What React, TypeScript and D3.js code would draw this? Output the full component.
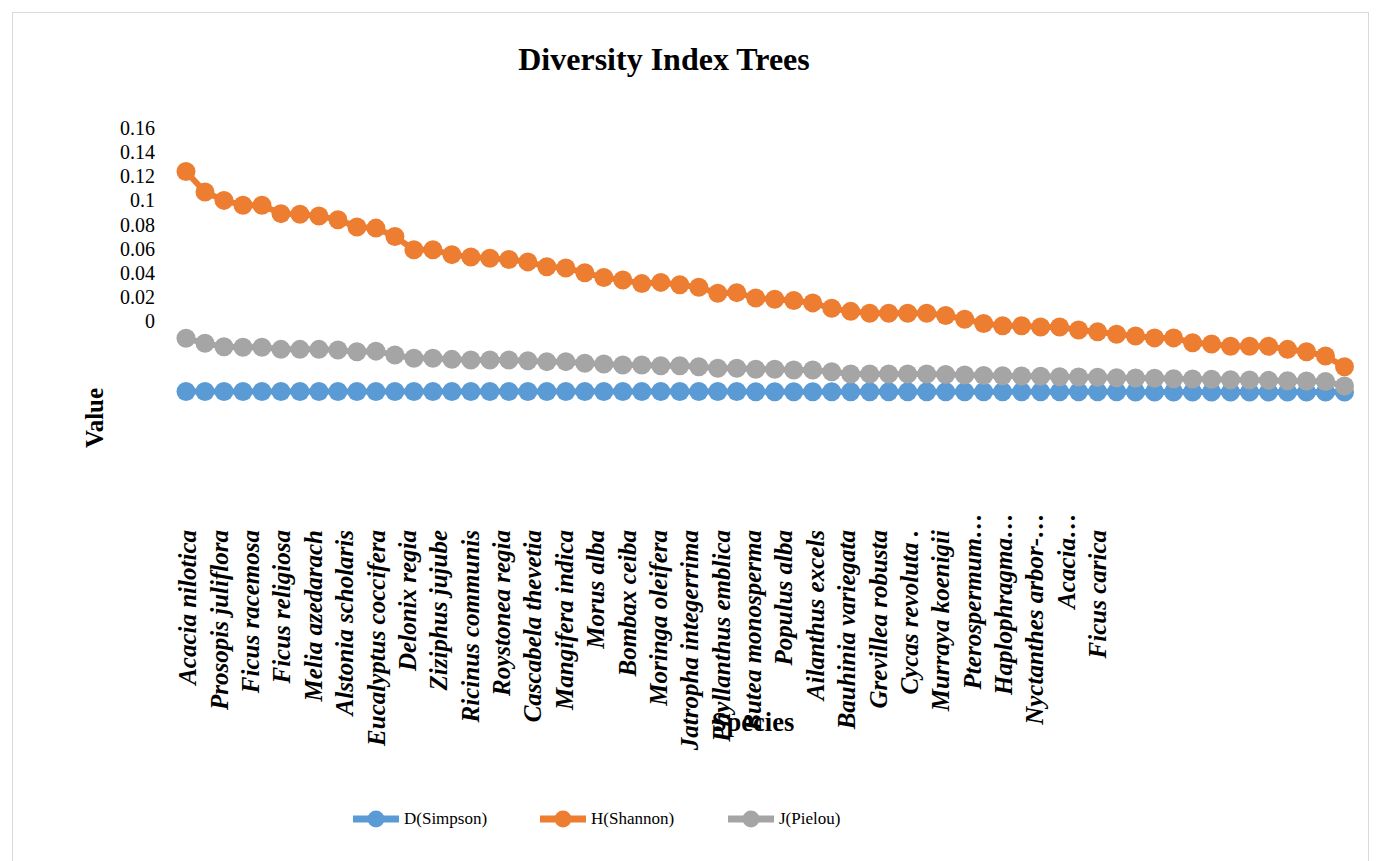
import React from "react";
import * as d3 from "d3";

// values (62 species, ordered by Shannon)
const simpson = [
  -0.0584, -0.0584, -0.0584, -0.0584, -0.0584, -0.0584, -0.0584, -0.0584, -0.0584, -0.0584,
  -0.0584, -0.0584, -0.0584, -0.0584, -0.0584, -0.0584, -0.0584, -0.0584, -0.0584, -0.0584,
  -0.0585, -0.0585, -0.0585, -0.0585, -0.0585, -0.0585, -0.0585, -0.0585, -0.0585, -0.0585,
  -0.0586, -0.0586, -0.0586, -0.0586, -0.0586, -0.0586, -0.0586, -0.0586, -0.0586, -0.0586,
  -0.0587, -0.0587, -0.0587, -0.0587, -0.0587, -0.0587, -0.0587, -0.0587, -0.0587, -0.0587,
  -0.0588, -0.0588, -0.0588, -0.0588, -0.0588, -0.0588, -0.0588, -0.0588, -0.0588, -0.0588,
  -0.0589, -0.0589,
];

const shannon = [
  0.124, 0.107, 0.1, 0.096, 0.096, 0.089, 0.0885, 0.087, 0.084, 0.078,
  0.077, 0.07, 0.059, 0.059, 0.055, 0.053, 0.052, 0.051, 0.049, 0.045,
  0.044, 0.04, 0.036, 0.034, 0.031, 0.032, 0.03, 0.028, 0.023, 0.0235,
  0.019, 0.018, 0.017, 0.015, 0.0105, 0.008, 0.0065, 0.0065, 0.0065, 0.0065,
  0.0046, 0.0014, -0.002, -0.004, -0.004, -0.005, -0.005, -0.0075, -0.009, -0.011,
  -0.0125, -0.014, -0.014, -0.018, -0.019, -0.021, -0.021, -0.021, -0.0235, -0.0255,
  -0.029, -0.038,
];

const pielou = [
  -0.0143, -0.0185, -0.0213, -0.0218, -0.0218, -0.0235, -0.0235, -0.0235, -0.024, -0.0255,
  -0.025, -0.0282, -0.0309, -0.0309, -0.0318, -0.0323, -0.0323, -0.0323, -0.0329, -0.0337,
  -0.0337, -0.0351, -0.0356, -0.0365, -0.0365, -0.0371, -0.0371, -0.0379, -0.0392, -0.0392,
  -0.04, -0.04, -0.0406, -0.0406, -0.042, -0.0439, -0.0439, -0.0439, -0.0439, -0.0439,
  -0.0444, -0.0448, -0.0452, -0.0454, -0.0456, -0.0458, -0.0462, -0.0464, -0.0467, -0.047,
  -0.0473, -0.0475, -0.0478, -0.0481, -0.0483, -0.0487, -0.0489, -0.0492, -0.0495, -0.0497,
  -0.0502, -0.0539,
];

// category tick labels shown on the axis (every other species)
const speciesLabels = [
  "Acacia nilotica", "Prosopis juliflora", "Ficus racemosa", "Ficus religiosa",
  "Melia azedarach", "Alstonia  scholaris", "Eucalyptus coccifera", "Delonix regia",
  "Ziziphus jujube", "Ricinus communis", "Roystonea regia", "Cascabela thevetia",
  "Mangifera indica", "Morus alba", "Bombax ceiba", "Moringa oleifera",
  "Jatropha integerrima", "Phyllanthus emblica", "Butea monosperma", "Populus alba",
  "Ailanthus excels", "Bauhinia variegata", "Grevillea robusta", "Cycas  revoluta .",
  "Murraya koenigii", "Pterospermum…", "Haplophragma…", "Nyctanthes arbor-…",
  "Acacia…", "Ficus carica",
];

const yTicks = [0, 0.02, 0.04, 0.06, 0.08, 0.1, 0.12, 0.14, 0.16];

const seriesList = [
  { name: "D(Simpson)", values: simpson, color: "#5B9BD5" },
  { name: "H(Shannon)", values: shannon, color: "#ED7D31" },
  { name: "J(Pielou)", values: pielou, color: "#A5A5A5" },
];

const serif = "'Liberation Serif', 'Times New Roman', serif";

export default function App() {
  const width = 1381;
  const height = 861;

  const x = d3
    .scalePoint<number>()
    .domain(d3.range(shannon.length))
    .range([186, 1344.5]);

  const y = d3.scaleLinear().domain([0, 0.16]).range([321, 128]);

  const xl = d3
    .scalePoint<string>()
    .domain(speciesLabels)
    .range([188, 1098]);

  const line = (vals: number[]) =>
    d3
      .line<number>()
      .x((_, i) => x(i) as number)
      .y((d) => y(d))(vals) as string;

  const legendX = [376, 563, 751];

  return (
    <svg
      width={width}
      height={height}
      style={{ position: "absolute", left: 0, top: 0, background: "#fff" }}
      fontFamily={serif}
    >
      <defs>
        <clipPath id="lblclip">
          <rect x={150} y={480} width={965} height={300} />
        </clipPath>
      </defs>
      <rect x={12.5} y={12.5} width={1356} height={900} fill="#fff" stroke="#d9d9d9" />

      <text x={664} y={70} textAnchor="middle" fontSize={32} fontWeight="bold">
        Diversity Index Trees
      </text>

      {/* y axis labels */}
      <g fontSize={20} textAnchor="end">
        {yTicks.map((t) => (
          <text key={t} x={155} y={y(t)} dy="0.35em">
            {String(t)}
          </text>
        ))}
      </g>

      <text
        transform="translate(103,418) rotate(-90)"
        textAnchor="middle"
        fontSize={25}
        fontWeight="bold"
      >
        Value
      </text>

      {/* series */}
      {seriesList.map((s) => (
        <g key={s.name}>
          <path d={line(s.values)} fill="none" stroke={s.color} strokeWidth={6} />
          {s.values.map((v, i) => (
            <circle key={i} cx={x(i)} cy={y(v)} r={9.5} fill={s.color} />
          ))}
        </g>
      ))}

      {/* category labels */}
      <g clipPath="url(#lblclip)" fontSize={25} fontWeight="bold" fontStyle="italic">
        {speciesLabels.map((name) => (
          <text
            key={name}
            transform={`translate(${xl(name)},${name.endsWith("…") ? 513 : 530}) rotate(-90)`}
            textAnchor="end"
            dy="0.33em"
          >
            {name}
          </text>
        ))}
      </g>

      <text x={753} y={731} textAnchor="middle" fontSize={26.5} fontWeight="bold">
        Species
      </text>

      {/* legend */}
      <g fontSize={17}>
        {seriesList.map((s, i) => (
          <g key={s.name} transform={`translate(${legendX[i]},819)`}>
            <line x1={-23} x2={23} stroke={s.color} strokeWidth={7} />
            <circle r={8.5} fill={s.color} />
            <text x={28} dy="0.3em">
              {s.name}
            </text>
          </g>
        ))}
      </g>
    </svg>
  );
}
